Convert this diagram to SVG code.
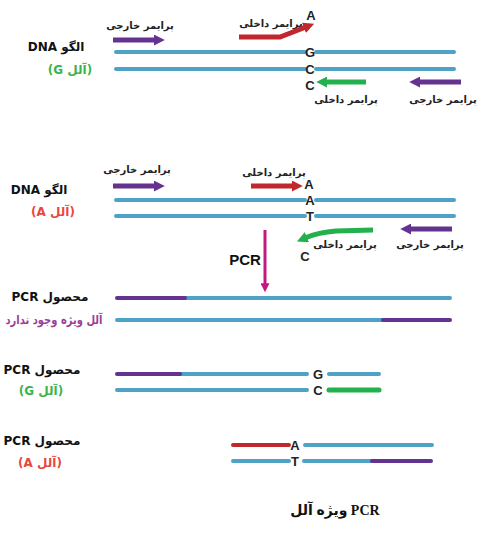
<svg xmlns="http://www.w3.org/2000/svg" width="495" height="545" viewBox="0 0 495 545">
<defs>
<style>
.s{stroke:#4ea2c6;stroke-width:4;stroke-linecap:round;fill:none}
.p{stroke:#63338f;stroke-width:5;stroke-linecap:butt;fill:none}
.r{stroke:#c0282e;stroke-width:5;fill:none}
.g{stroke:#22b14c;stroke-width:5;fill:none}
.fa{font-family:'DejaVu Sans',sans-serif;font-weight:bold;font-size:10px;fill:#222}
.lb{font-family:'DejaVu Sans',sans-serif;font-weight:bold;font-size:12px;fill:#111}
.nt{font-family:'Liberation Sans',Arial,sans-serif;font-weight:bold;font-size:13px;fill:#222}
</style>
<marker id="ap" viewBox="0 0 10 10" refX="2" refY="5" markerWidth="2.2" markerHeight="2.2" orient="auto-start-reverse"><path d="M0,0 L10,5 L0,10 Z" fill="#63338f"/></marker>
<marker id="ar" viewBox="0 0 10 10" refX="2" refY="5" markerWidth="2.2" markerHeight="2.2" orient="auto-start-reverse"><path d="M0,0 L10,5 L0,10 Z" fill="#c0282e"/></marker>
<marker id="ag" viewBox="0 0 10 10" refX="2" refY="5" markerWidth="2.2" markerHeight="2.2" orient="auto-start-reverse"><path d="M0,0 L10,5 L0,10 Z" fill="#22b14c"/></marker>
<marker id="am" viewBox="0 0 10 10" refX="2" refY="5" markerWidth="3" markerHeight="3" orient="auto"><path d="M0,0 L10,5 L0,10 Z" fill="#c2187f"/></marker>
</defs>
<rect width="495" height="545" fill="#fff"/>

<g id="labels">
<text class="lb" x="56" y="51" text-anchor="middle" direction="rtl">الگو DNA</text>
<text class="lb" x="70" y="74" text-anchor="middle" direction="rtl" style="fill:#3cb44b">(آلل G)</text>
<text class="lb" x="39" y="194" text-anchor="middle" direction="rtl">الگو DNA</text>
<text class="lb" x="53" y="216" text-anchor="middle" direction="rtl" style="fill:#e8473e">(آلل A)</text>
<text class="lb" x="50" y="301" text-anchor="middle" direction="rtl">محصول PCR</text>
<text class="lb" x="54" y="324" text-anchor="middle" direction="rtl" textLength="97" lengthAdjust="spacingAndGlyphs" style="fill:#9a3f99;font-size:12px">آلل ویژه وجود ندارد</text>
<text class="lb" x="42" y="374" text-anchor="middle" direction="rtl">محصول PCR</text>
<text class="lb" x="41" y="395" text-anchor="middle" direction="rtl" style="fill:#3cb44b">(آلل G)</text>
<text class="lb" x="42" y="445" text-anchor="middle" direction="rtl">محصول PCR</text>
<text class="lb" x="40" y="467" text-anchor="middle" direction="rtl" style="fill:#e8473e">(آلل A)</text>
<text x="335" y="515" text-anchor="middle" direction="rtl" style="font-family:'Liberation Serif','DejaVu Sans',serif;font-weight:bold;font-size:14px;fill:#111">PCR ویژه آلل</text>
</g>

<g id="template-G">
<line class="s" x1="116" y1="52" x2="305" y2="52"/>
<line class="s" x1="316" y1="52" x2="454" y2="52"/>
<line class="s" x1="116" y1="69" x2="305" y2="69"/>
<line class="s" x1="316" y1="69" x2="454" y2="69"/>
<text class="nt" x="310" y="57" text-anchor="middle">G</text>
<text class="nt" x="310" y="74" text-anchor="middle">C</text>
<text class="nt" x="311" y="20" text-anchor="middle">A</text>
<text class="nt" x="310" y="90" text-anchor="middle">C</text>
</g>

<g id="primers-G">
<text class="fa" x="140" y="29" text-anchor="middle" direction="rtl">پرایمر خارجی</text>
<line class="p" x1="113" y1="40" x2="156" y2="40" marker-end="url(#ap)"/>
<text class="fa" x="271" y="27" text-anchor="middle" direction="rtl">پرایمر داخلی</text>
<polyline class="r" points="239,37 280,37 306,27" marker-end="url(#ar)"/>
<line class="g" x1="366" y1="82" x2="325" y2="82" marker-end="url(#ag)"/>
<text class="fa" x="346" y="103" text-anchor="middle" direction="rtl">پرایمر داخلی</text>
<line class="p" x1="461" y1="82" x2="418" y2="82" marker-end="url(#ap)"/>
<text class="fa" x="443" y="103" text-anchor="middle" direction="rtl">پرایمر خارجی</text>
</g>

<g id="template-A">
<line class="s" x1="116" y1="200" x2="305" y2="200"/>
<line class="s" x1="316" y1="200" x2="454" y2="200"/>
<line class="s" x1="116" y1="216" x2="305" y2="216"/>
<line class="s" x1="316" y1="216" x2="454" y2="216"/>
<text class="nt" x="310" y="205" text-anchor="middle">A</text>
<text class="nt" x="310" y="221" text-anchor="middle">T</text>
<text class="nt" x="309" y="189" text-anchor="middle">A</text>
<text class="nt" x="305" y="261" text-anchor="middle">C</text>
</g>

<g id="primers-A">
<text class="fa" x="137" y="173" text-anchor="middle" direction="rtl">پرایمر خارجی</text>
<line class="p" x1="113" y1="186" x2="156" y2="186" marker-end="url(#ap)"/>
<text class="fa" x="274" y="176" text-anchor="middle" direction="rtl">پرایمر داخلی</text>
<line class="r" x1="251" y1="186" x2="294" y2="186" marker-end="url(#ar)"/>
<path class="g" d="M373,230 L336,231 C322,232 312,235 305,238" marker-end="url(#ag)"/>
<text class="fa" x="345" y="248" text-anchor="middle" direction="rtl">پرایمر داخلی</text>
<line class="p" x1="452" y1="229" x2="409" y2="229" marker-end="url(#ap)"/>
<text class="fa" x="430" y="248" text-anchor="middle" direction="rtl">پرایمر خارجی</text>
</g>

<g id="pcr-step">
<text x="245" y="265" text-anchor="middle" style="font-family:'Liberation Sans',Arial,sans-serif;font-weight:bold;font-size:15px;fill:#111">PCR</text>
<line x1="265" y1="230" x2="265" y2="285" stroke="#c2187f" stroke-width="3" marker-end="url(#am)"/>
</g>

<g id="product-none">
<line class="s" x1="185" y1="298" x2="450" y2="298"/>
<line x1="117" y1="298" x2="185" y2="298" stroke="#63338f" stroke-width="4" stroke-linecap="round"/>
<line class="s" x1="117" y1="320" x2="383" y2="320"/>
<line x1="383" y1="320" x2="450" y2="320" stroke="#63338f" stroke-width="4" stroke-linecap="round"/>
</g>

<g id="product-G">
<line class="s" x1="180" y1="374" x2="307" y2="374"/>
<line x1="117" y1="374" x2="180" y2="374" stroke="#63338f" stroke-width="4" stroke-linecap="round"/>
<line class="s" x1="329" y1="374" x2="379" y2="374"/>
<line class="s" x1="117" y1="390" x2="307" y2="390"/>
<line x1="329" y1="390" x2="379" y2="390" stroke="#22b14c" stroke-width="5" stroke-linecap="round"/>
<text class="nt" x="318" y="379" text-anchor="middle">G</text>
<text class="nt" x="318" y="395" text-anchor="middle">C</text>
</g>

<g id="product-A">
<line x1="233" y1="445" x2="289" y2="445" stroke="#c0282e" stroke-width="4" stroke-linecap="round"/>
<line class="s" x1="305" y1="445" x2="432" y2="445"/>
<line class="s" x1="233" y1="461" x2="289" y2="461"/>
<line class="s" x1="304" y1="461" x2="372" y2="461"/>
<line x1="372" y1="461" x2="431" y2="461" stroke="#63338f" stroke-width="4" stroke-linecap="round"/>
<text class="nt" x="295" y="450" text-anchor="middle">A</text>
<text class="nt" x="295" y="466" text-anchor="middle">T</text>
</g>
</svg>
